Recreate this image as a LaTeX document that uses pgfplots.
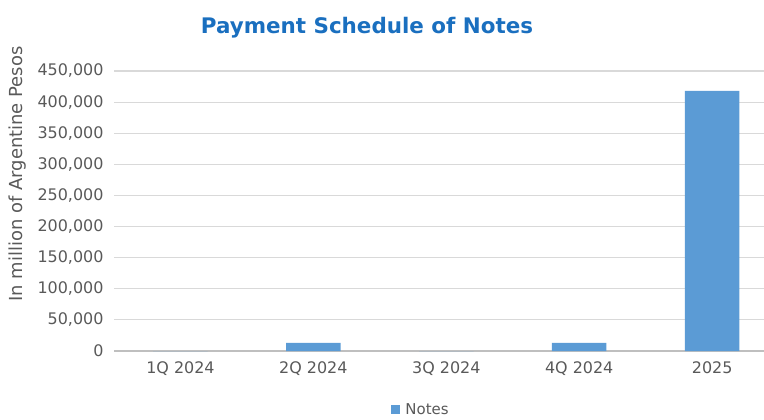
\documentclass[border=0pt]{standalone}
\usepackage{fontspec}
\setmainfont{DejaVu Sans}
\usepackage{pgfplots}
\pgfplotsset{compat=1.18}
\definecolor{barblue}{HTML}{5B9BD5}
\definecolor{titleblue}{HTML}{1A6FBF}
\definecolor{txtgray}{HTML}{595959}
\definecolor{gridgray}{HTML}{D9D9D9}
\definecolor{axisgray}{HTML}{BFBFBF}
\begin{document}
\begin{tikzpicture}[x=1bp,y=1bp]
\path[use as bounding box] (0,0) rectangle (764,419);
\begin{axis}[
  at={(114bp,68bp)}, anchor=south west,
  width=650bp, height=280bp, scale only axis,
  xmin=-0.5, xmax=4.39, ymin=0, ymax=450000,
  ybar, bar width=0.41,
  xtick={0,1,2,3,4},
  xticklabels={1Q 2024,2Q 2024,3Q 2024,4Q 2024,2025},
  ytick={0,50000,100000,150000,200000,250000,300000,350000,400000,450000},
  scaled y ticks=false,
  yticklabel style={xshift=-7bp, /pgf/number format/.cd, fixed, 1000 sep={,}, assume math mode=true},
  ymajorgrids, grid style={gridgray, line width=1.2bp},
  axis x line*=bottom, axis y line*=left,
  y axis line style={draw=none},
  x axis line style={draw=axisgray, line width=1.2bp, -},
  major tick length=0,
  tick label style={font=\fontsize{16}{19}\selectfont, text=txtgray},
  xticklabel style={yshift=-7bp},
  legend style={draw=none, fill=none, at={(0.472,-0.21)}, anchor=center,
    font=\fontsize{15}{18}\selectfont, text=txtgray},
  legend image code/.code={\fill[barblue] (0bp,-4.5bp) rectangle (9.5bp,4.5bp);},
]
\addplot[fill=barblue, draw=none] coordinates {(0,0) (1,13000) (2,0) (3,13000) (4,418000)};
\addlegendentry{\hspace{3bp}Notes}
\end{axis}
\node[font=\fontsize{21.5}{25}\selectfont\bfseries, text=titleblue] at (367,391) {Payment Schedule of Notes};
\node[rotate=90, font=\fontsize{18}{21}\selectfont, text=txtgray] at (18,245) {In million of Argentine Pesos};
\end{tikzpicture}
\end{document}
